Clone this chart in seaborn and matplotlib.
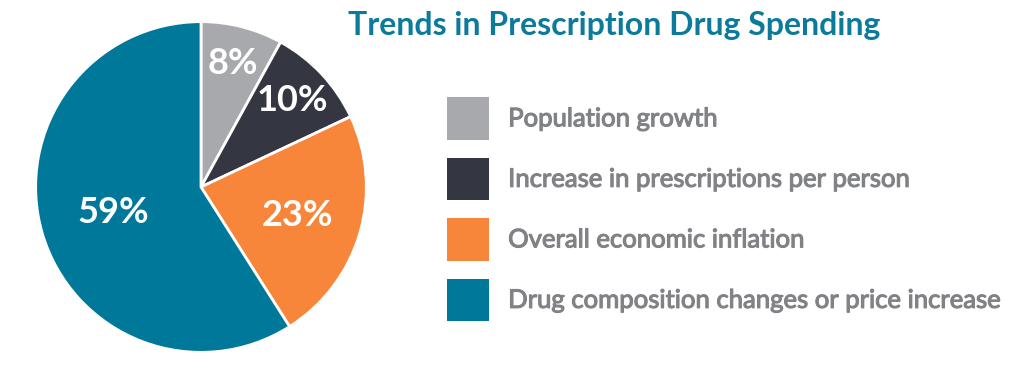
import numpy as np
import seaborn as sns
import matplotlib.pyplot as plt
import matplotlib.patheffects as pe
from matplotlib.patches import Patch

labels = ["Population growth", "Increase in prescriptions per person",
          "Overall economic inflation", "Drug composition changes or price increase"]
shares = [8, 10, 23, 59]
colors = ["#A7A9AC", "#343741", "#F7863A", "#00789A"]
label_dist = [0.77, 0.76, 0.61, 0.55]

sns.set_theme(style="white")
plt.rcParams['font.family'] = ['Lato', 'DejaVu Sans']

fig = plt.figure(figsize=(10.27, 3.81), dpi=100)
ax = fig.add_axes([201 / 1027 - 167 / 1027, 1 - (187 + 167) / 381, 334 / 1027, 334 / 381])

pal = sns.color_palette(colors)
wedges, texts, autotexts = ax.pie(
    shares, colors=pal, startangle=90, counterclock=False,
    autopct=lambda p: f"{p:.0f}%", pctdistance=0.6,
    wedgeprops=dict(edgecolor="white", linewidth=2),
    textprops=dict(color="white", fontsize=26, fontweight="bold"))
for w, t, d in zip(wedges, autotexts, label_dist):
    ang = np.deg2rad((w.theta1 + w.theta2) / 2)
    t.set_position((d * np.cos(ang), d * np.sin(ang)))
ax.set_xlim(-1.01, 1.01)
ax.set_ylim(-1.01, 1.01)
ax.set_aspect("equal")
ax.axis("off")

fig.text(614 / 1027, 1 - 25 / 381, "Trends in Prescription Drug Spending",
         ha="center", va="center", color="#0B7A9B", fontsize=23, fontweight="bold")

handles = [Patch(facecolor=c, edgecolor="none") for c in colors]
leg = fig.legend(handles, labels, loc="upper left", bbox_to_anchor=(447 / 1027, 1 - 97 / 381),
                 frameon=False, handlelength=1.64, handleheight=2.17,
                 labelspacing=0.70, handletextpad=0.74, borderpad=0, borderaxespad=0,
                 labelcolor="#808285", prop=dict(size=18.5))
for t in leg.get_texts():
    t.set_path_effects([pe.withStroke(linewidth=0.8, foreground="#808285")])

plt.savefig("out.png", dpi=100)
